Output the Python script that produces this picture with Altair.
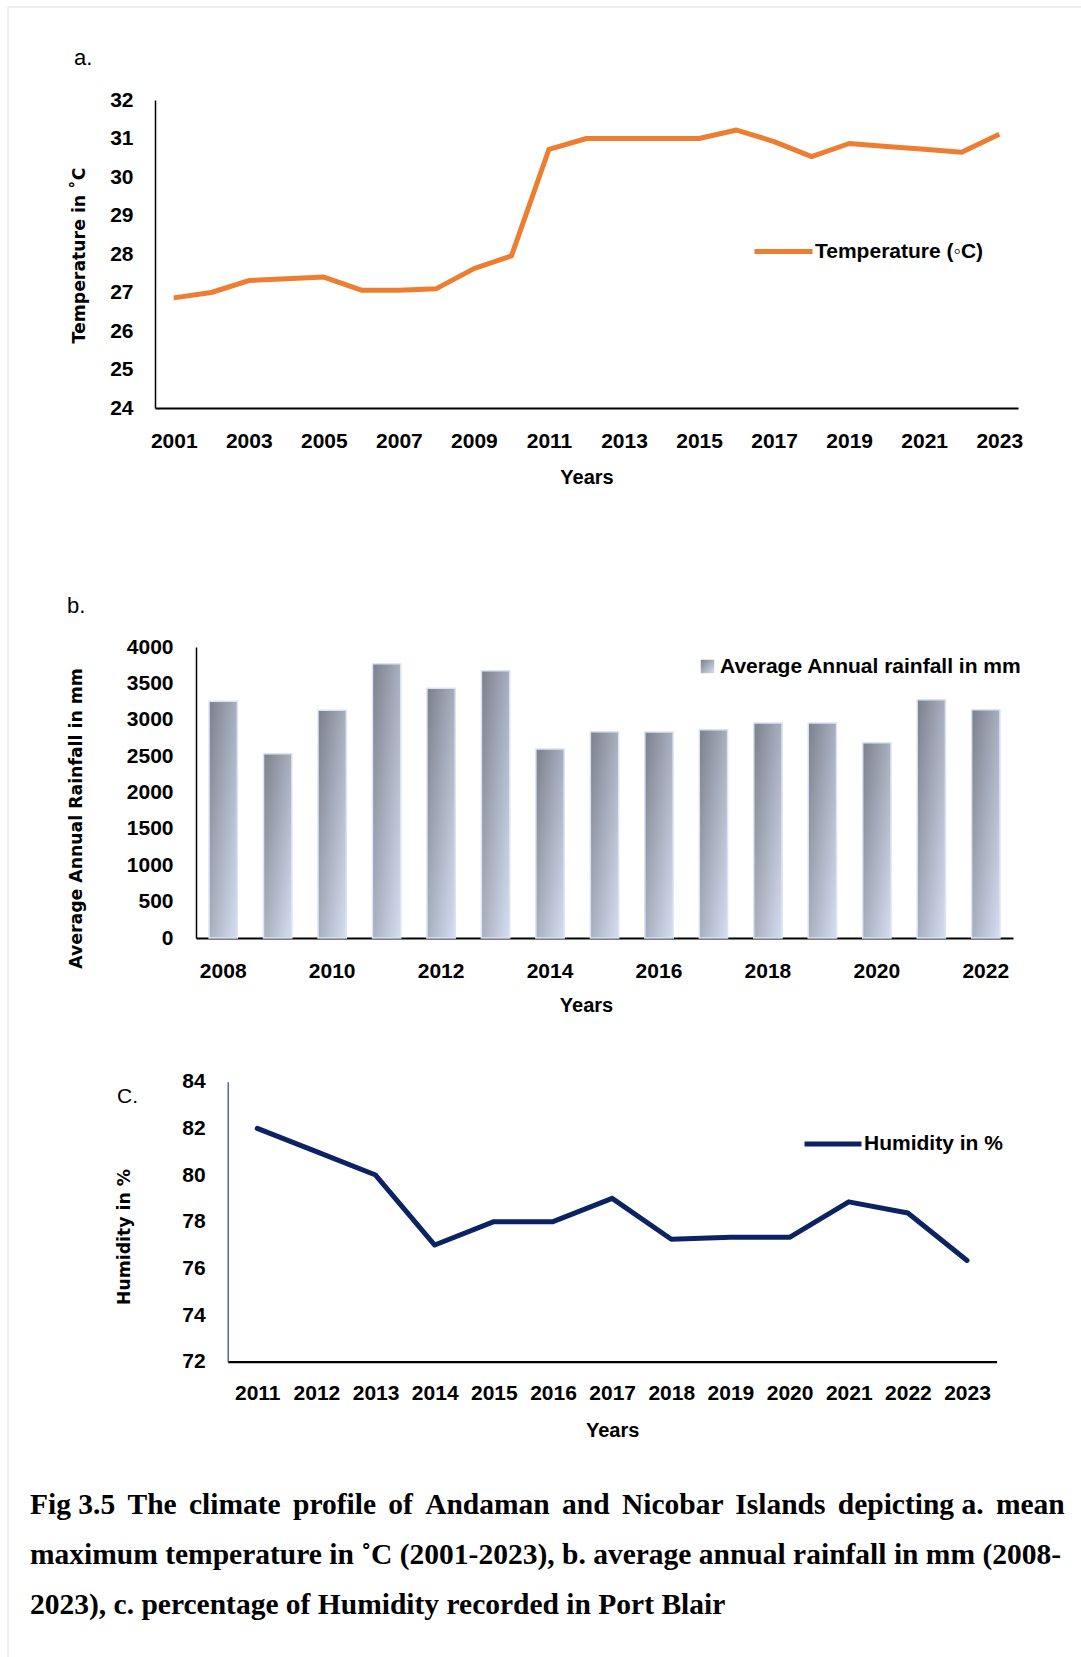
import altair as alt
import pandas as pd

W, H = 1081, 1657

# ---------------- data ----------------
temp_years = ["2001", "2002", "2003", "2004", "2005", "2006", "2007", "2008", "2009", "2010", "2011", "2012",
              "2013", "2014", "2015", "2016", "2017", "2018", "2019", "2020", "2021", "2022", "2023"]
temp_values = [26.86, 27.0, 27.31, 27.36, 27.4, 27.06, 27.06, 27.1, 27.62, 27.95, 30.72, 31.0,
               31.0, 31.0, 31.0, 31.22, 30.92, 30.53, 30.87, 30.79, 30.72, 30.64, 31.11]
temp_xticks = ["2001", "2003", "2005", "2007", "2009", "2011", "2013", "2015", "2017", "2019", "2021", "2023"]
temp_yticks = [24, 25, 26, 27, 28, 29, 30, 31, 32]

rain_years = ["2008", "2009", "2010", "2011", "2012", "2013", "2014", "2015", "2016", "2017", "2018",
              "2019", "2020", "2021", "2022"]
rain_values = [3253, 2534, 3129, 3771, 3432, 3675, 2598, 2836, 2832, 2864, 2955, 2955, 2685, 3276, 3139]
rain_xticks = ["2008", "2010", "2012", "2014", "2016", "2018", "2020", "2022"]
rain_yticks = [0, 500, 1000, 1500, 2000, 2500, 3000, 3500, 4000]

hum_years = ["2011", "2012", "2013", "2014", "2015", "2016", "2017", "2018", "2019", "2020", "2021",
             "2022", "2023"]
hum_values = [82.0, 81.0, 80.0, 77.0, 78.0, 78.0, 79.0, 77.25, 77.33, 77.33, 78.85, 78.37, 76.34]
hum_yticks = [72, 74, 76, 78, 80, 82, 84]

J = " \u2006"  # widened gap to imitate the justified first caption line
caption_lines = [
    "Fig 3.5" + J + "The" + J + "climate" + J + "profile" + J + "of" + J + "Andaman" + J + "and"
    + J + "Nicobar" + J + "Islands" + J + "depicting a." + J + "mean",
    "maximum temperature in \u02daC (2001-2023), b. average annual rainfall in mm (2008-",
    "2023), c. percentage of Humidity recorded in Port Blair",
]

SANS = "Liberation Sans"
WIDE = "DejaVu Sans"
SERIF = "Liberation Serif"


def x_axis(values, pos_y, pad, title_dy, title_x=None):
    kw = dict(
        orient="bottom", offset=pos_y - H, values=values, title="Years",
        labelAngle=0, labelFont=SANS, labelFontSize=21, labelFontWeight="bold", labelColor="black",
        labelPadding=pad, labelOverlap=False, ticks=False, tickSize=0, grid=False,
        domainColor="black", domainWidth=2.2,
        titleFont=SANS, titleFontSize=20, titleFontWeight="bold", titleColor="black",
        titleBaseline="middle", titleY=title_dy,
    )
    if title_x is not None:
        kw["titleX"] = title_x
    return alt.Axis(**kw)


def y_axis(values, pos_x, pad, title, title_cx, title_cy, dom_color="black", dom_width=1.5):
    return alt.Axis(
        orient="left", offset=-pos_x, values=values, title=title, format="d",
        labelFont=SANS, labelFontSize=21, labelFontWeight="bold", labelColor="black",
        labelPadding=pad, labelOverlap=False, labelFlush=False, ticks=False, tickSize=0, grid=False,
        domainColor=dom_color, domainWidth=dom_width,
        titleFont=WIDE, titleFontSize=17.3, titleFontWeight="bold", titleColor="black",
        titleAngle=270, titleAlign="center", titleBaseline="middle",
        titleX=title_cx - pos_x, titleY=title_cy,
    )


# ---------------- panel a: temperature ----------------
temp_df = pd.DataFrame({"year": temp_years, "value": temp_values, "series": "Temperature (\u25e6C)"})
temp = alt.Chart(temp_df).mark_line(strokeWidth=5, strokeJoin="round").encode(
    x=alt.X("year:O", sort=None, scale=alt.Scale(range=[155, 1018], padding=0.5),
            axis=x_axis(temp_xticks, 408, 22, 69)),
    y=alt.Y("value:Q", scale=alt.Scale(domain=[24, 32], range=[408, 100], nice=False, zero=False),
            axis=y_axis(temp_yticks, 155, 22, "Temperature in \u02daC", 79.5, 255)),
    color=alt.Color("series:N", scale=alt.Scale(range=["#ED7D31"]),
                    legend=alt.Legend(orient="none", legendX=752, legendY=220, title=None, padding=0,
                                      symbolType="stroke", symbolSize=3364, symbolStrokeWidth=5,
                                      labelFont=SANS, labelFontSize=21, labelFontWeight="bold",
                                      labelColor="black", labelLimit=500, labelOffset=0)),
)

# ---------------- panel b: rainfall ----------------
bar_grad = alt.Gradient(
    gradient="linear",
    stops=[alt.GradientStop(color="#7b808c", offset=0),
           alt.GradientStop(color="#d5def1", offset=1)],
    x1=0, y1=0, x2=1, y2=1,
)
rain_df = pd.DataFrame({"year": rain_years, "value": rain_values, "series": "Average Annual rainfall in mm"})
bars = alt.Chart(rain_df).mark_bar(fill=bar_grad, stroke="#dbe4f4", strokeWidth=1.5).encode(
    x=alt.X("year:O", sort=None,
            scale=alt.Scale(range=[196, 1013], paddingInner=0.48, paddingOuter=0.24),
            axis=x_axis(rain_xticks, 938, 22, 67, title_x=586)),
    y=alt.Y("value:Q", scale=alt.Scale(domain=[0, 4000], range=[938, 647], nice=False),
            axis=y_axis(rain_yticks, 196, 23, "Average Annual Rainfall in mm", 76, 818)),
    opacity=alt.Opacity("series:O", scale=alt.Scale(range=[1, 1]),
                        legend=alt.Legend(orient="none", legendX=697, legendY=656, title=None, padding=0,
                                          symbolType="square", symbolSize=182,
                                          symbolFillColor="#a2a9b8", symbolStrokeColor="#dbe4f4",
                                          symbolStrokeWidth=1,
                                          labelFont=SANS, labelFontSize=21, labelFontWeight="bold",
                                          labelColor="black", labelLimit=500, labelOffset=2)),
)

# ---------------- panel c: humidity ----------------
hum_df = pd.DataFrame({"year": hum_years, "value": hum_values, "series": "Humidity in %"})
hum = alt.Chart(hum_df).mark_line(strokeWidth=5, strokeJoin="round", strokeCap="round").encode(
    x=alt.X("year:O", sort=None, scale=alt.Scale(range=[227.7, 996.6], padding=0.5),
            axis=x_axis(hum_years, 1361.7, 20.5, 69)),
    y=alt.Y("value:Q", scale=alt.Scale(domain=[72, 84], range=[1361.7, 1081.7], nice=False, zero=False),
            axis=y_axis(hum_yticks, 227.7, 22.5, "Humidity in %", 124, 1236.5,
                        dom_color="#2f5496", dom_width=1.3)),
    color=alt.Color("series:N", scale=alt.Scale(range=["#0b2362"]),
                    legend=alt.Legend(orient="none", legendX=802, legendY=1113, title=None, padding=0,
                                      symbolType="stroke", symbolSize=3249, symbolStrokeWidth=5,
                                      labelFont=SANS, labelFontSize=21, labelFontWeight="bold",
                                      labelColor="black", labelLimit=500, labelOffset=0)),
)


# ---------------- annotations ----------------
def text_layer(txt, x, y, font, size, weight):
    return alt.Chart(pd.DataFrame({"label": [txt]})).mark_text(
        font=font, fontSize=size, fontWeight=weight, align="left", baseline="alphabetic", color="black"
    ).encode(x=alt.value(x), y=alt.value(y), text="label:N")


panel_a = text_layer("a.", 74, 65, SANS, 22, "normal")
panel_b = text_layer("b.", 67, 613, SANS, 22, "normal")
panel_c = text_layer("C.", 117, 1103, SANS, 21, "normal")
cap1 = text_layer(caption_lines[0], 30, 1514, SERIF, 29.5, "bold")
cap2 = text_layer(caption_lines[1], 30, 1564, SERIF, 29.5, "bold")
cap3 = text_layer(caption_lines[2], 30, 1614, SERIF, 29.5, "bold")

frame_df = pd.DataFrame({"k": [0]})
border_left = alt.Chart(frame_df).mark_rule(color="#dedede", strokeWidth=1).encode(
    x=alt.value(8), y=alt.value(7), y2=alt.value(H))
border_top = alt.Chart(frame_df).mark_rule(color="#dedede", strokeWidth=1).encode(
    x=alt.value(8), x2=alt.value(W), y=alt.value(7))

chart = alt.layer(
    border_left, border_top, bars, temp, hum, panel_a, panel_b, panel_c, cap1, cap2, cap3
).resolve_scale(
    x="independent", y="independent", color="independent", opacity="independent"
).properties(
    width=W, height=H, padding=0, autosize="none", background="white"
).configure_view(stroke=None)

chart.save("out.html", embed_options={"renderer": "svg", "actions": False})
